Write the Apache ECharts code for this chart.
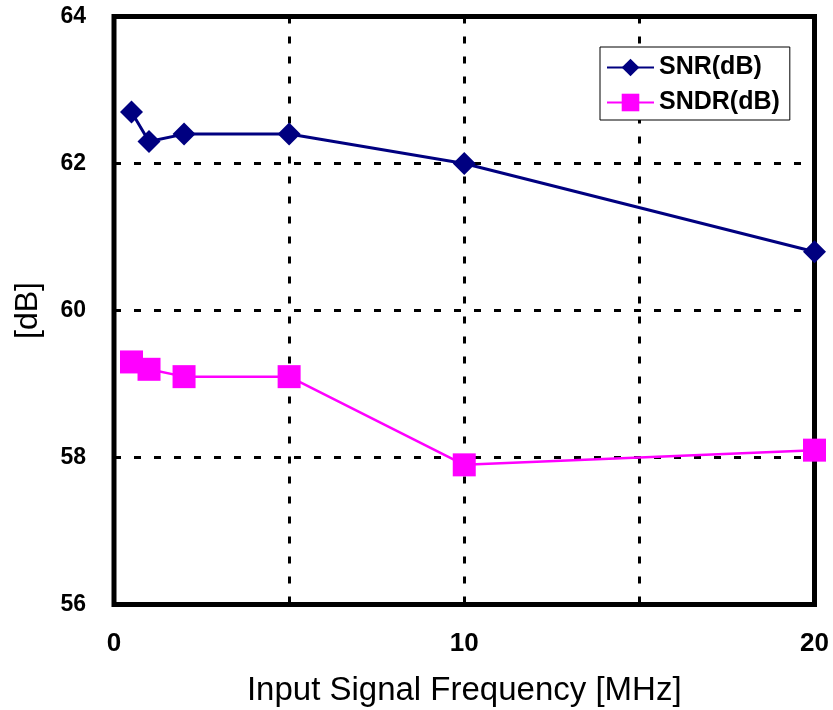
<!DOCTYPE html>
<html>
<head>
<meta charset="utf-8">
<script src="https://cdn.jsdelivr.net/npm/echarts@6/dist/echarts.min.js"></script>
<style>
  html, body { margin: 0; padding: 0; background: #fff; }
  #chart { width: 833px; height: 710px; }
</style>
</head>
<body>
<div id="chart"></div>
<script>
// Input signal frequency in MHz
const freqMHz = [0.5, 1, 2, 5, 10, 20];
// Measured SNR and SNDR in dB
const snr = [62.7, 62.3, 62.4, 62.4, 62.0, 60.8];
const sndr = [59.3, 59.2, 59.1, 59.1, 57.9, 58.1];
// Labelled ticks on the frequency axis
const xTickLabels = [0, 10, 20];

const chart = echarts.init(document.getElementById('chart'), null, { renderer: 'canvas' });

const pairs = (xs, ys) => xs.map((x, i) => [x, ys[i]]);

const FONT = 'Liberation Sans, Arial, sans-serif';
const gridLine = { show: true, lineStyle: { color: '#000', width: 3, type: [7, 13] } };

chart.setOption({
  backgroundColor: '#fff',
  animation: false,
  grid: {
    left: 114, top: 16.5, right: 18.5, bottom: 105.5,
    outerBoundsMode: 'none',
    containLabel: false,
    show: true, borderColor: '#000', borderWidth: 5, backgroundColor: 'transparent'
  },
  legend: {
    left: 600, top: 47,
    orient: 'vertical',
    backgroundColor: '#fff',
    borderColor: '#000', borderWidth: 1,
    padding: [8, 10, 5, 6],
    itemWidth: 47, itemHeight: 22, itemGap: 10,
    textStyle: { fontFamily: FONT, fontWeight: 'bold', fontSize: 25, color: '#000' },
    data: ['SNR(dB)', 'SNDR(dB)']
  },
  xAxis: {
    type: 'value', min: 0, max: 20, interval: 5,
    name: 'Input Signal Frequency [MHz]',
    nameLocation: 'middle', nameGap: 70,
    nameTextStyle: { fontFamily: FONT, fontSize: 33, color: '#000' },
    axisLine: { show: false },
    axisTick: { show: false },
    axisLabel: {
      margin: 26,
      fontFamily: FONT, fontWeight: 'bold', fontSize: 26, color: '#000',
      formatter: v => (xTickLabels.indexOf(v) >= 0 ? String(v) : '')
    },
    splitLine: gridLine
  },
  yAxis: {
    type: 'value', min: 56, max: 64, interval: 2,
    name: '[dB]',
    nameLocation: 'middle', nameGap: 70,
    nameTextStyle: { fontFamily: FONT, fontSize: 32, color: '#000' },
    axisLine: { show: false },
    axisTick: { show: false },
    axisLabel: { margin: 28, fontFamily: FONT, fontWeight: 'bold', fontSize: 23, color: '#000' },
    splitLine: gridLine
  },
  series: [
    {
      name: 'SNR(dB)', type: 'line',
      data: pairs(freqMHz, snr),
      symbol: 'diamond', symbolSize: 23,
      lineStyle: { color: '#000080', width: 3 },
      itemStyle: { color: '#000080' },
      z: 3
    },
    {
      name: 'SNDR(dB)', type: 'line',
      data: pairs(freqMHz, sndr),
      symbol: 'rect', symbolSize: 23,
      lineStyle: { color: '#FF00FF', width: 2.5 },
      itemStyle: { color: '#FF00FF' },
      z: 3
    }
  ]
});
</script>
</body>
</html>
